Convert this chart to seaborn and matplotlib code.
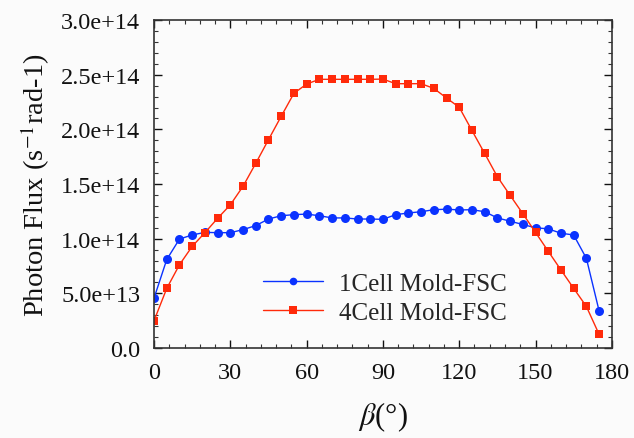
import numpy as np
import pandas as pd
import matplotlib
matplotlib.use("Agg")
import matplotlib.pyplot as plt
import seaborn as sns
from matplotlib.ticker import MultipleLocator, FixedLocator

beta = [0, 5, 10, 15, 20, 25, 30, 35, 40, 45, 50, 55, 60, 65, 70, 75, 80, 85,
        90, 95, 100, 105, 110, 115, 120, 125, 130, 135, 140, 145, 150, 155, 160, 165, 170, 175]
flux_1cell = [0.457, 0.81, 0.997, 1.034, 1.058, 1.055, 1.055, 1.083, 1.12, 1.18, 1.21, 1.22,
              1.225, 1.21, 1.19, 1.19, 1.18, 1.18,
              1.177, 1.22, 1.235, 1.247, 1.265, 1.27, 1.263, 1.265, 1.247, 1.19, 1.16, 1.13,
              1.10, 1.09, 1.05, 1.034, 0.82, 0.34]
flux_4cell = [0.25, 0.546, 0.762, 0.93, 1.055, 1.187, 1.31, 1.48, 1.69, 1.906, 2.12, 2.33,
              2.415, 2.458, 2.458, 2.458, 2.458, 2.458,
              2.46, 2.418, 2.418, 2.418, 2.375, 2.287, 2.202, 1.99, 1.78, 1.567, 1.397, 1.229,
              1.058, 0.885, 0.714, 0.546, 0.38, 0.125]
series_names = ["1Cell Mold-FSC", "4Cell Mold-FSC"]
ytick_values = [0.0, 0.5e14, 1.0e14, 1.5e14, 2.0e14, 2.5e14, 3.0e14]
ytick_labels = ["0.0", "5.0e+13", "1.0e+14", "1.5e+14", "2.0e+14", "2.5e+14", "3.0e+14"]
xticks = [0, 30, 60, 90, 120, 150, 180]

df = pd.DataFrame({
    "beta": beta * 2,
    "flux": [v * 1e14 for v in flux_1cell] + [v * 1e14 for v in flux_4cell],
    "series": [series_names[0]] * len(beta) + [series_names[1]] * len(beta),
})

sns.set_style("ticks")
plt.rcParams["font.family"] = ["Liberation Serif", "DejaVu Serif"]
plt.rcParams["mathtext.fontset"] = "stix"

bg = "#fbfbfb"
fig = plt.figure(figsize=(6.34, 4.39), dpi=100, facecolor=bg)
ax = fig.add_axes([0.243, 0.205, 0.722, 0.747])
ax.set_facecolor(bg)

palette = {series_names[0]: "#0a32ff", series_names[1]: "#ff2a0a"}
sns.lineplot(data=df, x="beta", y="flux", hue="series", style="series",
             markers={series_names[0]: "o", series_names[1]: "s"},
             dashes=False, palette=palette, linewidth=1.0, markersize=6.5,
             markeredgewidth=0, ax=ax)
for ln in ax.lines:
    if ln.get_marker() == "s":
        ln.set_markersize(6.0)

ax.set_xlim(0, 180)
ax.set_ylim(0, 3.0e14)
ax.set_xticks(xticks)
ax.set_xticklabels([str(t) for t in xticks])
ax.yaxis.set_major_locator(FixedLocator(ytick_values))
ax.set_yticklabels(ytick_labels)
ax.xaxis.set_minor_locator(MultipleLocator(6))
ax.yaxis.set_minor_locator(MultipleLocator(0.1e14))
ax.tick_params(which="both", direction="in", top=True, right=True, color="#333333")
ax.tick_params(which="major", length=6, width=1.0, labelsize=17.5, pad=10, colors="#111111")
ax.tick_params(which="minor", length=3, width=0.8)
for s in ax.spines.values():
    s.set_linewidth(1.2)
    s.set_color("#333333")
    s.set_visible(True)

ax.set_xlabel(r"$\beta$(°)", fontsize=22, labelpad=12, color="#111111")
ax.set_ylabel(r"Photon Flux (s$^{-1}$rad-1)", fontsize=20.5, labelpad=6, color="#111111")

leg = ax.legend(loc="center left", bbox_to_anchor=(0.238, 0.152), frameon=False,
                fontsize=18, handlelength=2.4, handletextpad=0.65, labelspacing=0.25,
                borderpad=0, borderaxespad=0)
for h in leg.legend_handles:
    h.set_markersize(5.5)

fig.savefig("out.png", dpi=100, facecolor=bg)
